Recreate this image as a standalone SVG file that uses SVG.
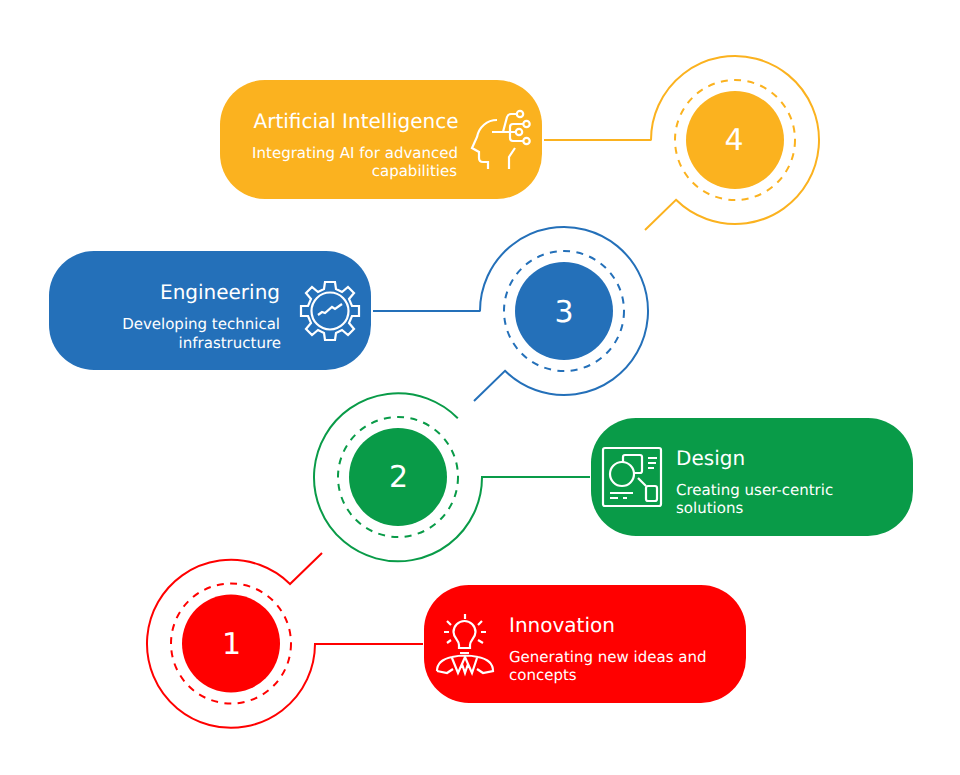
<svg xmlns="http://www.w3.org/2000/svg" width="960" height="775" viewBox="0 0 960 775">
<style>
text{font-family:"DejaVu Sans",sans-serif;fill:#fff;text-rendering:geometricPrecision}
.t{font-size:20px}
.d{font-size:15px}
.n{font-size:30px;text-anchor:middle}
.e{text-anchor:end}
.line{fill:none;stroke-width:2}
.dash{fill:none;stroke-width:2;stroke-dasharray:7 6.4}
.ic{fill:none;stroke:#fff;stroke-width:2.200}
.r{stroke:#ff0000}.g{stroke:#099b48}.b{stroke:#2470b9}.y{stroke:#fbb21f}
</style>
<rect width="960" height="775" fill="#fff"/>
<g id="connectors">
<path class="line r" d="M423 644H315A84 84 0 1 1 290 584L322 553"/>
<path class="line g" d="M590 477H482V477.500A84 84 0 1 1 457.800 418.300"/>
<path class="line b" d="M373 311H480V311.500A84 84 0 1 1 505 370.800L474 401"/>
<path class="line y" d="M544 140H651V140.500A84 84 0 1 1 676 199.800L645 230"/>
</g>
<g id="node-1">
<rect x="424" y="585" width="322" height="118" rx="45" fill="#ff0000"/>
<circle class="dash r" cx="231" cy="643.500" r="60"/>
<circle cx="231" cy="643.500" r="49" fill="#ff0000"/>
<text class="n" x="231.500" y="654">1</text>
<text class="t" x="509" y="632">Innovation</text>
<text class="d" x="509" y="661.500">Generating new ideas and</text>
<text class="d" x="509" y="679.500">concepts</text>
<g class="ic">
<path d="M459 648V645C459 640 453.500 638 453.500 632A11 11 0 0 1 475.500 632C475.500 638 470 640 470 645V648Z"/>
<path d="M460 653H469M465 614V619M447 621L451 625M482 621L478 625M444 632H449M486 632H481M447 643L451 640M483 643L478 640"/>
<path d="M437 671Q437 660 452 657Q465 654 478 657Q493 660 493 671L483 673L477 669M437 671L447 673L453 669M452 658L458 673L462 664L465 657L468 664L472 673L477 658M462 664L465 673L468 664"/>
</g>
</g>
<g id="node-2">
<rect x="591" y="418" width="322" height="118" rx="45" fill="#099b48"/>
<circle class="dash g" cx="398" cy="477" r="60"/>
<circle cx="398" cy="477" r="49" fill="#099b48"/>
<text class="n" x="398.500" y="487">2</text>
<text class="t" x="676" y="465">Design</text>
<text class="d" x="676" y="494.500">Creating user-centric</text>
<text class="d" x="676" y="512.500">solutions</text>
<g class="ic">
<rect x="603" y="448" width="58" height="58" rx="2"/>
<circle cx="622" cy="474" r="12"/>
<path d="M623 462V457Q623 455 625 455H640Q642 455 642 457V471Q642 473 640 473H634"/>
<rect x="646" y="486" width="11" height="15" rx="2"/>
<path d="M638 478L646 486M648 458H657M648 463H656M648 468H654M610 493H633M610 498H618M623 498H627"/>
</g>
</g>
<g id="node-3">
<rect x="49" y="251" width="322" height="119" rx="45" fill="#2470b9"/>
<circle class="dash b" cx="564" cy="311" r="60"/>
<circle cx="564" cy="311" r="49" fill="#2470b9"/>
<text class="n" x="564" y="322">3</text>
<text class="t e" x="280" y="299">Engineering</text>
<text class="d e" x="280" y="328.500">Developing technical</text>
<text class="d e" x="281" y="348">infrastructure</text>
<g class="ic">
<circle cx="330" cy="311" r="18.500"/>
<path d="M325 282H335L336 289L342 292L348 287L354 293L349 299L352 306L359 306V316L352 316L349 323L354 329L348 335L342 330L336 333L335 340H325L324 333L318 330L312 335L306 329L311 323L308 316L301 316V306L308 306L311 299L306 293L312 287L318 292L324 289Z"/>
<path d="M318 315L322 312L325 313L332 307L335 309L342 304"/>
</g>
</g>
<g id="node-4">
<rect x="220" y="80" width="322" height="119" rx="45" fill="#fbb21f"/>
<circle class="dash y" cx="735" cy="140" r="60"/>
<circle cx="735" cy="140" r="49" fill="#fbb21f"/>
<text class="n" x="734" y="150">4</text>
<text class="t e" x="458.500" y="128">Artificial Intelligence</text>
<text class="d e" x="458" y="157.500">Integrating AI for advanced</text>
<text class="d e" x="457" y="175.500">capabilities</text>
<g class="ic">
<path d="M497 120C487 120 479 127 477 137L472 148L479 152V158Q479 162 483 162H488V169"/>
<path d="M492 132H516M503 132L507 117Q508 114 511 114H517M510 132V127Q510 124 513 124H523M510 132V138Q510 141 513 141H523"/>
<circle cx="520" cy="114" r="3.200"/><circle cx="526.500" cy="124" r="3.200"/><circle cx="519" cy="132" r="3.200"/><circle cx="526.500" cy="141" r="3.200"/>
<path d="M515 148L509 157V169"/>
</g>
</g>
</svg>
